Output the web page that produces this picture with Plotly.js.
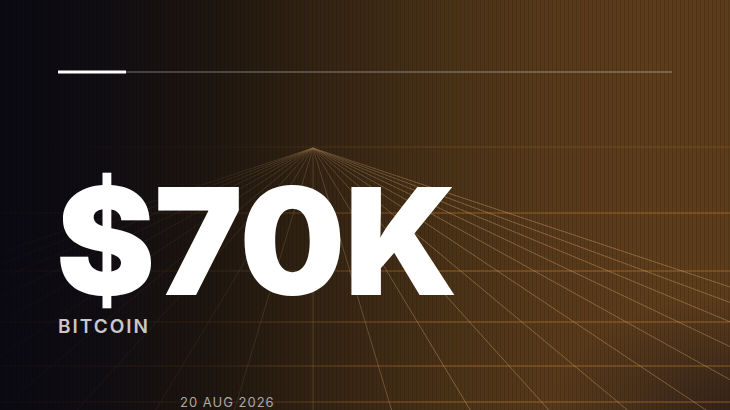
<!DOCTYPE html>
<html>
<head>
<meta charset="utf-8">
<script src="https://cdn.plot.ly/plotly-3.0.1.min.js"></script>
<style>
  html, body { margin: 0; padding: 0; background: #0b0a12; }
  #stage {
    position: relative; width: 730px; height: 410px; overflow: hidden;
    background:
      radial-gradient(ellipse 240px 150px at 100% 100%, rgba(24,18,22,0.6), rgba(24,18,22,0) 75%),
      repeating-linear-gradient(90deg, rgba(0,0,0,0.13) 0 1px, rgba(0,0,0,0) 1px 4px),
      linear-gradient(90deg, #0a0911 0%, #100d12 14%, #1d150f 28%, #2f2112 41%, #3b2814 50%, #4a3217 62%, #56391a 75%, #5b3c1b 88%, #5c3c1b 100%);
  }
  #grid, #labels { position: absolute; left: 0; top: 0; width: 730px; height: 410px; }
  #grid {
    -webkit-mask-image: linear-gradient(90deg, rgba(0,0,0,0.07) 0%, rgba(0,0,0,0.22) 30%, rgba(0,0,0,0.7) 48%, #000 60%);
    mask-image: linear-gradient(90deg, rgba(0,0,0,0.07) 0%, rgba(0,0,0,0.22) 30%, rgba(0,0,0,0.7) 48%, #000 60%);
  }
</style>
</head>
<body>
<div id="stage">
  <div id="grid"></div>
  <div id="labels"></div>
</div>
<script>
// headline data
const price = '$70K';
const asset = 'BITCOIN';
const dateLabel = '20 AUG 2026';

// perspective floor: horizon, floor rows and ray spread (dx per unit dy from the vanishing point)
const horizonRow = [147];
const floorRows = [213, 271, 322, 366, 402];
const raySpread = [-3.0, -2.7, -2.4, -2.1, -1.8, -1.5, -1.2, -0.9, -0.6, -0.3, 0,
                   0.3, 0.6, 0.9, 1.2, 1.5, 1.8, 2.1, 2.4, 2.7, 3.0];

const W = 730, H = 410;
const vp = { x: 313, y: 148 };

function frame() {
  return {
    width: W, height: H,
    margin: { l: 0, r: 0, t: 0, b: 0 },
    paper_bgcolor: 'rgba(0,0,0,0)',
    plot_bgcolor: 'rgba(0,0,0,0)',
    showlegend: false,
    xaxis: { range: [0, W], visible: false, fixedrange: true },
    yaxis: { range: [H, 0], visible: false, fixedrange: true }
  };
}

function rows(list) {
  const x = [], y = [];
  list.forEach(v => { x.push(0, W, null); y.push(v, v, null); });
  return { x, y };
}

const rayX = [], rayY = [];
raySpread.forEach(s => {
  rayX.push(vp.x, vp.x + s * 1000, null);
  rayY.push(vp.y, vp.y + 1000, null);
});
const hz = rows(horizonRow);
const fl = rows(floorRows);

Plotly.newPlot('grid', [
  { x: hz.x, y: hz.y, mode: 'lines', hoverinfo: 'skip',
    line: { color: 'rgba(196,128,52,0.25)', width: 1 } },
  { x: fl.x, y: fl.y, mode: 'lines', hoverinfo: 'skip',
    line: { color: 'rgba(200,130,52,0.58)', width: 1.2 } },
  { x: rayX, y: rayY, mode: 'lines', hoverinfo: 'skip',
    line: { color: 'rgba(226,176,118,0.38)', width: 1 } }
], frame(), { staticPlot: true });

const lay = frame();
lay.shapes = [
  { type: 'line', xref: 'x', yref: 'y', x0: 126, x1: 672, y0: 72, y1: 72,
    line: { color: 'rgba(255,255,255,0.42)', width: 1.2 } },
  { type: 'line', xref: 'x', yref: 'y', x0: 58, x1: 126, y0: 72, y1: 72,
    line: { color: '#ffffff', width: 3 } }
];
lay.annotations = [
  { text: price, x: 54, y: 241, xref: 'x', yref: 'y', xanchor: 'left', yanchor: 'middle', align: 'left',
    showarrow: false, font: { family: 'Inter', size: 149, weight: 900, color: '#ffffff' } },
  { text: asset, x: 56, y: 326, xref: 'x', yref: 'y', xanchor: 'left', yanchor: 'middle', align: 'left',
    showarrow: false, font: { family: 'Inter', size: 19, weight: 600, color: '#cac6ca' } },
  { text: dateLabel, x: 178, y: 401.5, xref: 'x', yref: 'y', xanchor: 'left', yanchor: 'middle', align: 'left',
    showarrow: false, font: { family: 'Inter', size: 13, weight: 400, color: '#aca7a5' } }
];

Plotly.newPlot('labels', [], lay, { staticPlot: true }).then(() => {
  const spacing = { [price]: '-1px', [asset]: '2px', [dateLabel]: '1px' };
  document.querySelectorAll('#labels .annotation-text').forEach(t => {
    if (spacing[t.textContent]) t.style.letterSpacing = spacing[t.textContent];
  });
});
</script>
</body>
</html>
